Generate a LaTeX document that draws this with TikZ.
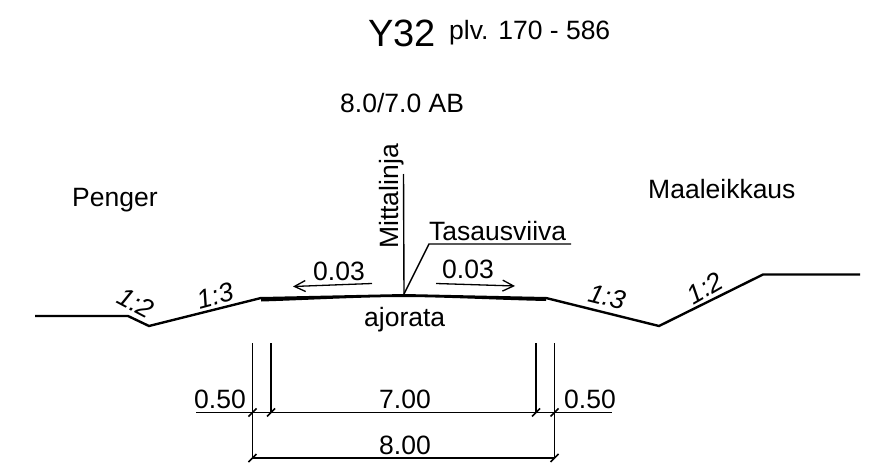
\documentclass[tikz,border=0pt]{standalone}
\usepackage{fontspec}
\setmainfont{Liberation Sans}
\usetikzlibrary{arrows.meta}
\tikzset{
  ground/.style={line width=2.4pt,line join=miter},
  thin line/.style={line width=1.4pt},
  dimline/.style={line width=1.3pt},
  tick mark/.style={line width=1.6pt},
  slopearrow/.style={line width=1.3pt,-{Straight Barb[length=11pt,width=11pt,line width=1.3pt]}},
  lab/.style={inner sep=0pt,font=\fontsize{26.5}{26.5}\selectfont,text=black,anchor=base},
  slab/.style={inner sep=0pt,font=\fontsize{26.5}{26.5}\selectfont\itshape,anchor=center},
}
\begin{document}
\begin{tikzpicture}[x=1pt,y=-1pt]
\useasboundingbox (0,0) rectangle (890,473);
\coordinate (g0) at (35,316);
\coordinate (g1) at (128,316);
\coordinate (g2) at (149,326);
\coordinate (g3) at (261,298);
\coordinate (crown) at (404,294);
\coordinate (g4) at (546,298);
\coordinate (g5) at (659,326);
\coordinate (g6) at (763,274.5);
\coordinate (g7) at (860,274.5);
\draw[ground] (g0) -- (g1) -- (g2) -- (g3);
\draw[ground] (g4) -- (g5) -- (g6) -- (g7);
\fill (261,297) -- (crown) -- (546,297) -- (546,301) .. controls (500,300) and (440,297) .. (404,297) .. controls (360,297) and (310,300) .. (261,301.5) -- cycle;
\coordinate (m0) at (403.5,174);
\draw[thin line] (m0) -- (crown);
\coordinate (t1) at (429,244);
\coordinate (t2) at (571,244);
\draw[thin line] (crown) -- (t1) -- (t2);
\coordinate (al0) at (372,283.5);
\coordinate (al1) at (293,286.5);
\coordinate (ar0) at (436,283.5);
\coordinate (ar1) at (515,286);
\draw[slopearrow] (al0) -- (al1);
\draw[slopearrow] (ar0) -- (ar1);
\coordinate (v1t) at (252.5,343);
\coordinate (v1m) at (252.5,412.5);
\coordinate (v1b) at (252.5,458);
\coordinate (v2t) at (271,343);
\coordinate (v2m) at (271,412.5);
\coordinate (v3t) at (536,343);
\coordinate (v3m) at (536,412.5);
\coordinate (v4t) at (554.5,343);
\coordinate (v4m) at (554.5,412.5);
\coordinate (v4b) at (554.5,458);
\coordinate (hl) at (196,412.5);
\coordinate (hr) at (612,412.5);
\draw[dimline] (v1t) -- (v1b) -- (v4b) -- (v4t);
\draw[dimline] (v2t) -- (v2m);
\draw[dimline] (v3t) -- (v3m);
\draw[dimline] (hl) -- (hr);
\foreach \c in {v1m,v2m,v3m,v4m,v1b,v4b}
  \draw[tick mark] ([shift={(-4,4)}]\c) -- ([shift={(4,-4)}]\c);
\node[inner sep=0pt,anchor=base west,font=\fontsize{38}{38}\selectfont] (title) at (368,47) {Y32};
\node[inner sep=0pt,anchor=base west,font=\fontsize{26.5}{26.5}\selectfont] (plv) at (449,40) {plv. 170 - 586};
\node[lab,anchor=base west] (ab) at (340,113) {8.0/7.0 AB};
\node[lab,anchor=base west] (penger) at (72,206) {Penger};
\node[lab,anchor=base west] (maa) at (648,198) {Maaleikkaus};
\node[lab,anchor=base west,rotate=90] (mitta) at (398,249) {Mittalinja};
\node[lab,anchor=base west] (tas) at (429,240) {Tasausviiva};
\node[lab,anchor=base west] (c1) at (313,280) {0.03};
\node[lab,anchor=base west] (c2) at (442,278) {0.03};
\node[lab,anchor=base west] (ajo) at (364,326) {ajorata};
\node[lab,anchor=base west] (d1) at (194,408) {0.50};
\node[lab,anchor=base west] (d2) at (379,408) {7.00};
\node[lab,anchor=base west] (d3) at (564,408) {0.50};
\node[lab,anchor=base west] (d4) at (379,454) {8.00};
\node[slab,rotate=-28] (s1) at (136,303) {1:2};
\node[slab,rotate=15] (s2) at (215,296) {1:3};
\node[slab,rotate=-14] (s3) at (607,297) {1:3};
\node[slab,rotate=30] (s4) at (705,288) {1:2};
\end{tikzpicture}
\end{document}
